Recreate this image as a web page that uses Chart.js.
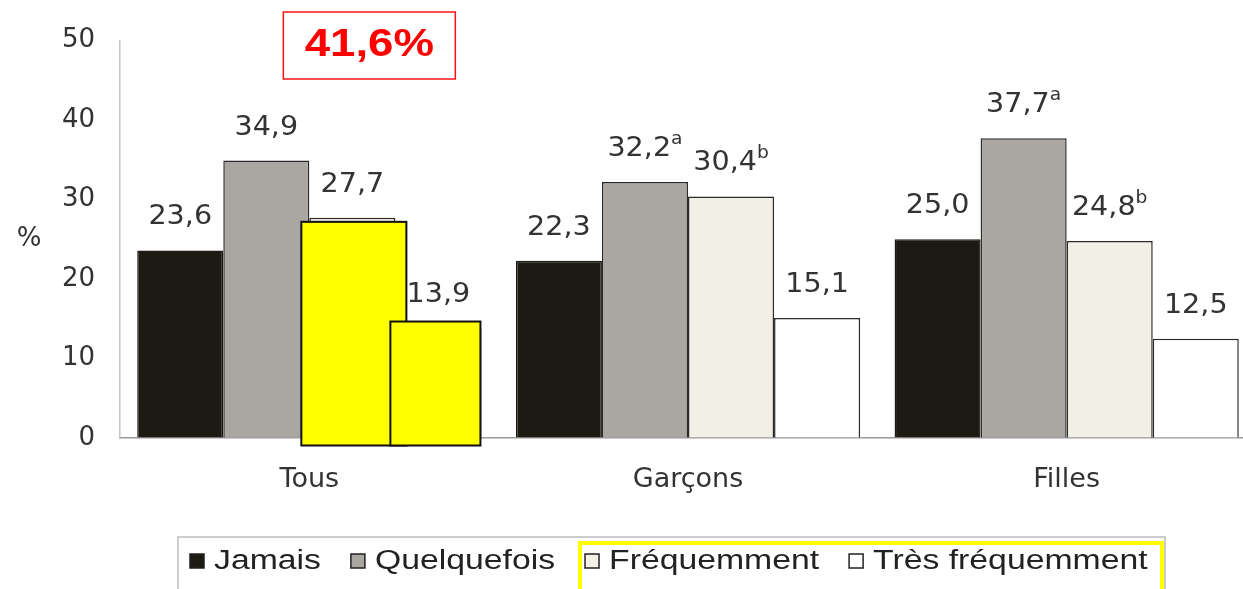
<!DOCTYPE html>
<html lang="fr">
<head>
<meta charset="UTF-8">
<title>Fréquence par groupe</title>
<script src="https://cdn.jsdelivr.net/npm/chart.js"></script>
<style>
  html, body { margin: 0; padding: 0; background: #fff; overflow: hidden; }
  canvas { display: block; }
</style>
</head>
<body>
<canvas id="chart" width="1256" height="589"></canvas>
<script>
// données
const groupes = ['Tous', 'Garçons', 'Filles'];
const jamais = [23.6, 22.3, 25.0];
const quelquefois = [34.9, 32.2, 37.7];
const frequemment = [27.7, 30.4, 24.8];
const tresFrequemment = [13.9, 15.1, 12.5];
const expQuelquefois = ['', 'a', 'a'];
const expFrequemment = ['', 'b', 'b'];
const expVides = ['', '', ''];
const seriesNoms = ['Jamais', 'Quelquefois', 'Fréquemment', 'Très fréquemment'];
const seriesCouleurs = ['#1c1a13', '#aaa7a2', '#f2f0e6', '#ffffff'];
const yTicks = [0, 10, 20, 30, 40, 50];

const exposants = [expVides, expQuelquefois, expFrequemment, expVides];
const fmt = v => v.toFixed(1).replace('.', ',');

// texte étiré horizontalement (le graphique d'origine est élargi)
function texteEtire(ctx, txt, x, y, sx, align) {
  const w = ctx.measureText(txt).width * sx;
  ctx.save();
  ctx.translate(align === 'center' ? x - w / 2 : x, y);
  ctx.scale(sx, 1);
  ctx.textAlign = 'left';
  ctx.fillText(txt, 0, 0);
  ctx.restore();
  return w;
}

const decorations = {
  id: 'decorations',
  afterDatasetsDraw(chart) {
    const ctx = chart.ctx;
    const area = chart.chartArea;
    const sx = 1.1;

    // valeurs au-dessus des barres
    chart.data.datasets.forEach((ds, di) => {
      const meta = chart.getDatasetMeta(di);
      meta.data.forEach((bar, i) => {
        const main = fmt(ds.data[i]);
        const sup = exposants[di][i];
        ctx.font = '26px "DejaVu Sans"';
        const wMain = ctx.measureText(main).width * sx;
        ctx.font = '17px "DejaVu Sans"';
        const wSup = sup ? ctx.measureText(sup).width * sx : 0;
        const x0 = bar.x - (wMain + wSup) / 2;
        const yb = bar.y - 26;
        ctx.fillStyle = '#333';
        ctx.textBaseline = 'alphabetic';
        ctx.font = '26px "DejaVu Sans"';
        texteEtire(ctx, main, x0, yb, sx, 'left');
        if (sup) {
          ctx.font = '17px "DejaVu Sans"';
          texteEtire(ctx, sup, x0 + wMain, yb - 12, sx, 'left');
        }
      });
    });

    // surlignage jaune des deux dernières barres de "Tous"
    const b1 = chart.getDatasetMeta(2).data[0];
    const b2 = chart.getDatasetMeta(3).data[0];
    ctx.save();
    ctx.fillStyle = '#ffff00';
    ctx.strokeStyle = '#111';
    ctx.lineWidth = 2;
    const r1 = [b1.x - b1.width / 2 - 8, b1.y + 4, b1.width + 19, b1.base + 8 - (b1.y + 4)];
    const r2 = [b2.x - b2.width / 2 - 5, b2.y - 6, b2.width + 4, b2.base + 8 - (b2.y - 6)];
    ctx.fillRect(...r1); ctx.strokeRect(...r1);
    ctx.fillRect(...r2); ctx.strokeRect(...r2);
    ctx.restore();

    // encadré rouge : somme Fréquemment + Très fréquemment
    const somme = frequemment[0] + tresFrequemment[0];
    const cx = chart.scales.x.getPixelForValue(0) + 60;
    ctx.save();
    ctx.strokeStyle = '#ff1010';
    ctx.lineWidth = 1.5;
    ctx.strokeRect(cx - 86, 12, 172, 67);
    ctx.fillStyle = '#ff0000';
    ctx.font = 'bold 38px "Liberation Sans"';
    ctx.textBaseline = 'middle';
    texteEtire(ctx, fmt(somme) + '%', cx, 46, 1.2, 'center');
    ctx.restore();

    // titre de l'axe y
    ctx.save();
    ctx.fillStyle = '#333';
    ctx.font = '26px "DejaVu Sans"';
    ctx.textBaseline = 'middle';
    texteEtire(ctx, '%', area.left - 91, (area.top + area.bottom) / 2, 1.0, 'center');
    ctx.restore();

    // légende
    ctx.save();
    ctx.strokeStyle = '#bdbdbd';
    ctx.lineWidth = 1.5;
    ctx.strokeRect(178, 537, 987, 80);
    ctx.strokeStyle = '#ffff00';
    ctx.lineWidth = 4;
    ctx.strokeRect(580, 543, 582, 80);
    let x = 190;
    const ly = 561;
    ctx.font = '27px "Liberation Sans"';
    ctx.textBaseline = 'middle';
    seriesNoms.forEach((nom, i) => {
      ctx.fillStyle = seriesCouleurs[i];
      ctx.strokeStyle = '#222';
      ctx.lineWidth = 1.5;
      ctx.fillRect(x, ly - 7, 14, 14);
      ctx.strokeRect(x, ly - 7, 14, 14);
      x += 24;
      ctx.fillStyle = '#222';
      x += texteEtire(ctx, nom, x, ly + 1, 1.25, 'left');
      x += 30;
    });
    ctx.restore();
  }
};

new Chart(document.getElementById('chart').getContext('2d'), {
  type: 'bar',
  data: {
    labels: groupes,
    datasets: [
      { label: seriesNoms[0], data: jamais, backgroundColor: seriesCouleurs[0], borderColor: '#1c1a13', borderWidth: 1.5 },
      { label: seriesNoms[1], data: quelquefois, backgroundColor: seriesCouleurs[1], borderColor: '#2a2a2a', borderWidth: 1.5 },
      { label: seriesNoms[2], data: frequemment, backgroundColor: seriesCouleurs[2], borderColor: '#2a2a2a', borderWidth: 1.5 },
      { label: seriesNoms[3], data: tresFrequemment, backgroundColor: seriesCouleurs[3], borderColor: '#2a2a2a', borderWidth: 1.5 }
    ]
  },
  options: {
    responsive: false,
    animation: false,
    layout: { padding: { top: 40, right: 0, bottom: 0, left: 0 } },
    datasets: { bar: { categoryPercentage: 0.909, barPercentage: 1 } },
    plugins: { legend: { display: false }, tooltip: { enabled: false } },
    scales: {
      x: {
        grid: { drawOnChartArea: false, drawTicks: false },
        border: { display: true, color: '#9a9a9a', width: 1.5 },
        ticks: { color: '#333', padding: 26, font: { family: 'DejaVu Sans', size: 27 } },
        afterFit: s => { s.height = 151; }
      },
      y: {
        min: 0,
        max: 50,
        afterBuildTicks: s => { s.ticks = yTicks.map(v => ({ value: v })); },
        grid: { drawOnChartArea: false, drawTicks: false },
        border: { display: true, color: '#c4c4c4', width: 1.5 },
        ticks: { color: '#333', padding: 25, font: { family: 'DejaVu Sans', size: 26 } },
        afterFit: s => { s.width = 120; }
      }
    }
  },
  plugins: [decorations]
});
</script>
</body>
</html>
